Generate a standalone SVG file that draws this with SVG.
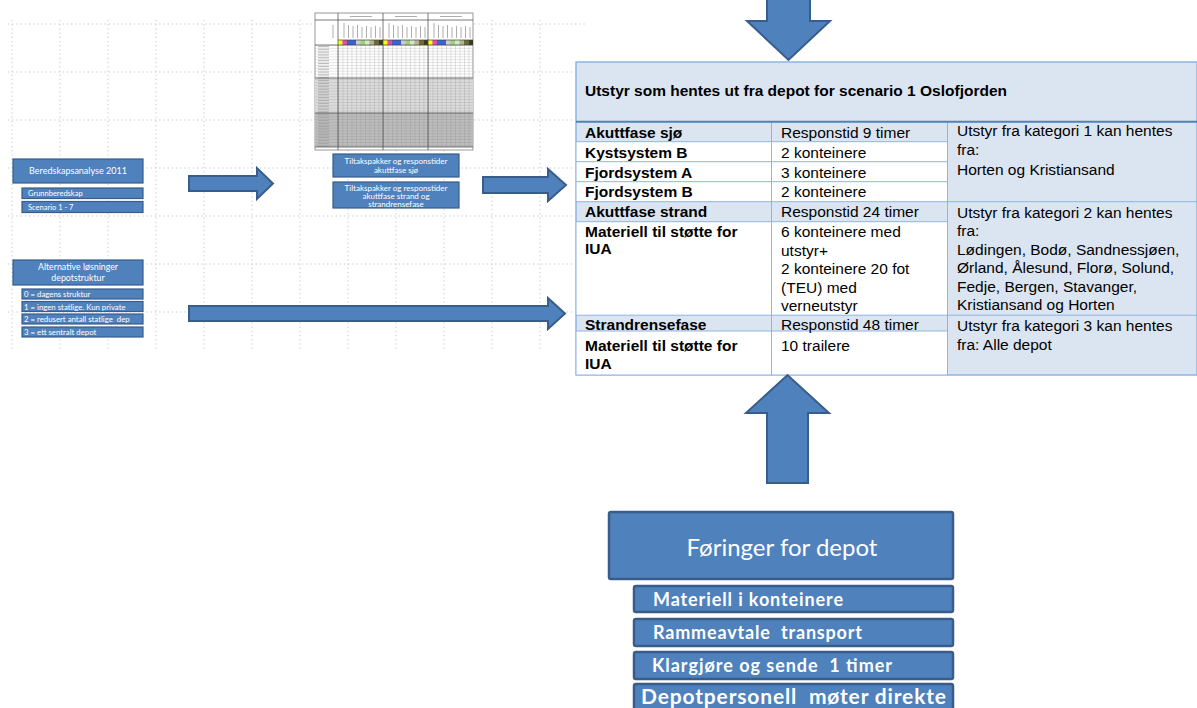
<svg xmlns="http://www.w3.org/2000/svg" width="1197" height="708" viewBox="0 0 1197 708">
<style>
.grid line{stroke:#c4c4c4;stroke-width:1;stroke-dasharray:1.2 3}
.bx{fill:#4f81bd;stroke:#385d8a;stroke-width:1.2}
.bxb{fill:#4f81bd;stroke:#385d8a;stroke-width:2.5}
.arr{fill:#4f81bd;stroke:#385d8a;stroke-width:2;stroke-linejoin:miter}
.st{font-family:Lato,"Open Sans",sans-serif;fill:#fff}
.t{font-family:"Liberation Sans",Arial,sans-serif;fill:#000;font-size:15.5px}
.b{font-weight:bold}
.cell{stroke:#8eb4e3;stroke-width:1}
</style>
<defs>
<pattern id="ss" x="338" y="45" width="4.5" height="2.85" patternUnits="userSpaceOnUse">
<path d="M0 0H4.5M0 0V2.85" stroke="#777" stroke-width="0.4" fill="none"/>
</pattern>
<pattern id="ssl" x="315" y="45" width="23" height="2.85" patternUnits="userSpaceOnUse">
<path d="M0 0H23" stroke="#777" stroke-width="0.4" fill="none"/>
<path d="M3 1.6H14" stroke="#999" stroke-width="0.8" fill="none"/>
</pattern>
</defs>
<rect width="1197" height="708" fill="#fff"/>
<g class="grid">
<line x1="12" y1="20" x2="12" y2="350"/><line x1="60" y1="20" x2="60" y2="350"/><line x1="108" y1="20" x2="108" y2="350"/><line x1="156" y1="20" x2="156" y2="350"/><line x1="204" y1="20" x2="204" y2="350"/><line x1="252" y1="20" x2="252" y2="350"/><line x1="300" y1="20" x2="300" y2="350"/><line x1="348" y1="20" x2="348" y2="350"/><line x1="396" y1="20" x2="396" y2="350"/><line x1="444" y1="20" x2="444" y2="350"/><line x1="492" y1="20" x2="492" y2="350"/><line x1="540" y1="20" x2="540" y2="350"/>
<line x1="8" y1="24" x2="585" y2="24"/><line x1="8" y1="72" x2="575" y2="72"/><line x1="8" y1="120" x2="575" y2="120"/><line x1="8" y1="168" x2="575" y2="168"/><line x1="8" y1="216" x2="575" y2="216"/><line x1="8" y1="264" x2="575" y2="264"/><line x1="8" y1="312" x2="575" y2="312"/>
</g>
<g id="spreadsheet">
<rect x="315" y="13" width="158" height="137" fill="#fff" stroke="#555" stroke-width="0.6"/>
<rect x="315" y="78" width="158" height="35" fill="#dcdcdc"/>
<rect x="315" y="113" width="158" height="34" fill="#bdbdbd"/>
<rect x="338" y="45" width="135" height="102" fill="url(#ss)"/>
<rect x="315" y="45" width="23" height="102" fill="url(#ssl)"/>
<rect x="338" y="40" width="135" height="5" fill="#ccc"/>
<g>
<rect x="338" y="40" width="4.5" height="5" fill="#ffff00"/><rect x="342.5" y="40" width="4.5" height="5" fill="#e04fa0"/><rect x="347" y="40" width="9" height="5" fill="#3a62d8"/><rect x="360.5" y="40" width="4.5" height="5" fill="#9bd27a"/><rect x="365" y="40" width="4.5" height="5" fill="#d6e8c0"/><rect x="369.5" y="40" width="4.5" height="5" fill="#b5b58a"/><rect x="374" y="40" width="4.5" height="5" fill="#6b6b35"/><rect x="378.5" y="40" width="4.5" height="5" fill="#3b3b18"/>
<rect x="383" y="40" width="4.5" height="5" fill="#ffff00"/><rect x="387.5" y="40" width="4.5" height="5" fill="#e04fa0"/><rect x="392" y="40" width="9" height="5" fill="#3a62d8"/><rect x="405.5" y="40" width="4.5" height="5" fill="#9bd27a"/><rect x="410" y="40" width="4.5" height="5" fill="#d6e8c0"/><rect x="414.5" y="40" width="4.5" height="5" fill="#b5b58a"/><rect x="419" y="40" width="4.5" height="5" fill="#6b6b35"/><rect x="423.5" y="40" width="4.5" height="5" fill="#3b3b18"/>
<rect x="428" y="40" width="4.5" height="5" fill="#ffff00"/><rect x="432.5" y="40" width="4.5" height="5" fill="#e04fa0"/><rect x="437" y="40" width="9" height="5" fill="#3a62d8"/><rect x="450.5" y="40" width="4.5" height="5" fill="#9bd27a"/><rect x="455" y="40" width="4.5" height="5" fill="#d6e8c0"/><rect x="459.5" y="40" width="4.5" height="5" fill="#b5b58a"/><rect x="464" y="40" width="4.5" height="5" fill="#6b6b35"/><rect x="468.5" y="40" width="4.5" height="5" fill="#3b3b18"/>
</g>
<g stroke="#444" stroke-width="0.7" fill="none">
<path d="M315 20H473M338 40H473M315 45H473M315 78H473M315 113H473M315 147H473"/>
<path d="M338 13V150M383 13V150M428 13V150"/>
</g>
<g stroke="#999" stroke-width="0.8">
<path d="M344 23V38M348.5 25V38M353 26V38M357.5 25V38M362 27V38M366.5 26V38M371 27V38M375.5 26V38M380 27V38"/>
<path d="M389 23V38M393.5 25V38M398 26V38M402.5 25V38M407 27V38M411.5 26V38M416 27V38M420.5 26V38M425 27V38"/>
<path d="M434 23V38M438.5 25V38M443 26V38M447.5 25V38M452 27V38M456.5 26V38M461 27V38M465.5 26V38M470 27V38"/>
<path d="M350 16.5H372M395 16.5H417M440 16.5H462M333 25V38"/>
</g>
</g>
<g id="beredskap">
<rect class="bx" x="13" y="159" width="130" height="24"/>
<text class="st" x="78" y="174" font-size="9" text-anchor="middle">Beredskapsanalyse 2011</text>
<rect class="bx" x="22" y="188" width="121" height="10.5"/>
<text class="st" x="28" y="196.3" font-size="7.5">Grunnberedskap</text>
<rect class="bx" x="22" y="201.5" width="121" height="11"/>
<text class="st" x="28" y="210" font-size="7.5">Scenario 1 - 7</text>
</g>
<g id="alternative">
<rect class="bx" x="13" y="260" width="130" height="25"/>
<text class="st" x="78" y="270" font-size="8.8" text-anchor="middle">Alternative løsninger</text>
<text class="st" x="78" y="281" font-size="8.8" text-anchor="middle">depotstruktur</text>
<rect class="bx" x="22" y="289" width="121" height="10"/>
<text class="st" x="24" y="297" font-size="7.8">0 = dagens struktur</text>
<rect class="bx" x="22" y="301.5" width="121" height="10"/>
<text class="st" x="24" y="309.5" font-size="7.8">1 = ingen statlige. Kun private</text>
<rect class="bx" x="22" y="314" width="121" height="10"/>
<text class="st" x="24" y="322" font-size="7.8" xml:space="preserve">2 = redusert antall statlige  dep</text>
<rect class="bx" x="22" y="327" width="121" height="10"/>
<text class="st" x="24" y="335" font-size="7.8">3 = ett sentralt depot</text>
</g>
<g id="tiltak">
<rect class="bx" x="333" y="154" width="126" height="23"/>
<text class="st" x="396" y="164" font-size="8" text-anchor="middle">Tiltakspakker og responstider</text>
<text class="st" x="396" y="173" font-size="8" text-anchor="middle">akuttfase sjø</text>
<rect class="bx" x="333" y="182" width="126" height="26"/>
<text class="st" x="396" y="191" font-size="8" text-anchor="middle">Tiltakspakker og responstider</text>
<text class="st" x="396" y="199" font-size="8" text-anchor="middle">akuttfase strand og</text>
<text class="st" x="396" y="207" font-size="8" text-anchor="middle">strandrensefase</text>
</g>
<g id="table">
<rect x="576" y="62" width="621" height="313" fill="#dbe5f1" stroke="#8eb4e3"/>
<rect x="576" y="141.7" width="371" height="60" fill="#fff"/>
<rect x="576" y="221.7" width="371" height="93.5" fill="#fff"/>
<rect x="576" y="331" width="371" height="44" fill="#fff"/>
<g class="cell" fill="none">
<path d="M576 141.7H947M576 161.7H947M576 181.7H947M576 201.7H1197M576 221.7H947M576 315.2H1197M576 331H947"/>
<path d="M771.5 121.7V375M947.5 121.7V375"/>
<rect x="576" y="62" width="621" height="313"/>
</g>
<path d="M576 121.7H1197" stroke="#4f81bd" stroke-width="2"/>
<text class="t b" x="585" y="96" font-size="15">Utstyr som hentes ut fra depot for scenario 1 Oslofjorden</text>
<text class="t b" x="585" y="138">Akuttfase sjø</text>
<text class="t b" x="585" y="158">Kystsystem B</text>
<text class="t b" x="585" y="178">Fjordsystem A</text>
<text class="t b" x="585" y="197">Fjordsystem B</text>
<text class="t b" x="585" y="217">Akuttfase strand</text>
<text class="t b" x="585" y="237">Materiell til støtte for</text>
<text class="t b" x="585" y="254">IUA</text>
<text class="t b" x="585" y="330">Strandrensefase</text>
<text class="t b" x="585" y="351">Materiell til støtte for</text>
<text class="t b" x="585" y="369">IUA</text>
<text class="t" x="781" y="138">Responstid 9 timer</text>
<text class="t" x="781" y="158">2 konteinere</text>
<text class="t" x="781" y="178">3 konteinere</text>
<text class="t" x="781" y="197">2 konteinere</text>
<text class="t" x="781" y="217">Responstid 24 timer</text>
<text class="t" x="781" y="237">6 konteinere med</text>
<text class="t" x="781" y="256">utstyr+</text>
<text class="t" x="781" y="274">2 konteinere 20 fot</text>
<text class="t" x="781" y="293">(TEU) med</text>
<text class="t" x="781" y="311">verneutstyr</text>
<text class="t" x="781" y="330">Responstid 48 timer</text>
<text class="t" x="781" y="351">10 trailere</text>
<text class="t" x="957" y="136">Utstyr fra kategori 1 kan hentes</text>
<text class="t" x="957" y="155">fra:</text>
<text class="t" x="957" y="175">Horten og Kristiansand</text>
<text class="t" x="957" y="218">Utstyr fra kategori 2 kan hentes</text>
<text class="t" x="957" y="236">fra:</text>
<text class="t" x="957" y="255">Lødingen, Bodø, Sandnessjøen,</text>
<text class="t" x="957" y="273">Ørland, Ålesund, Florø, Solund,</text>
<text class="t" x="957" y="292">Fedje, Bergen, Stavanger,</text>
<text class="t" x="957" y="310">Kristiansand og Horten</text>
<text class="t" x="957" y="331">Utstyr fra kategori 3 kan hentes</text>
<text class="t" x="957" y="350">fra: Alle depot</text>
</g>
<g id="foringer">
<rect class="bxb" x="609" y="512" width="344" height="67" rx="2"/>
<text class="st" x="782" y="556" font-size="24" text-anchor="middle">Føringer for depot</text>
<rect class="bxb" x="634" y="586" width="319" height="26" rx="2"/>
<text class="st" x="653" y="606" font-size="18" font-weight="bold" textLength="190" lengthAdjust="spacing">Materiell i konteinere</text>
<rect class="bxb" x="634" y="619" width="319" height="27" rx="2"/>
<text class="st" x="653" y="639" font-size="18" font-weight="bold" textLength="209" lengthAdjust="spacing" xml:space="preserve">Rammeavtale  transport</text>
<rect class="bxb" x="634" y="652" width="319" height="27" rx="2"/>
<text class="st" x="652" y="672" font-size="18" font-weight="bold" textLength="240" lengthAdjust="spacing" xml:space="preserve">Klargjøre og sende  1 timer</text>
<rect class="bxb" x="634" y="684" width="319" height="30" rx="2"/>
<text class="st" x="641" y="704" font-size="21" font-weight="bold" textLength="305" lengthAdjust="spacing" xml:space="preserve">Depotpersonell  møter direkte</text>
</g>
<g id="connectors">
<path class="arr" d="M189 176H257V168L273 183.5L257 199V191H189Z"/>
<path class="arr" d="M483 177H548V169L566 185L548 201V193H483Z"/>
<path class="arr" d="M189 306H548V298L565 313.5L548 329V321H189Z"/>
<path class="arr" d="M767 -2H810V21H830L788.5 60L747 21H767Z"/>
<path class="arr" d="M767 483V413H746L787.5 375L829 413H808V483Z"/>
</g>
</svg>
